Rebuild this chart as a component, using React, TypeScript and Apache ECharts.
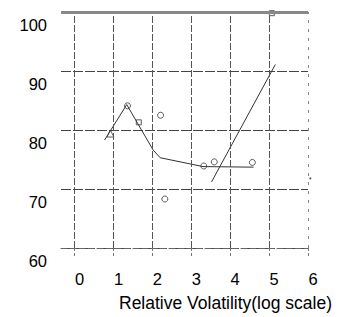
import React, { useEffect, useRef } from "react";
import * as echarts from "echarts";

const xTicks = [0, 1, 2, 3, 4, 5, 6];
const yTicks = [60, 70, 80, 90, 100];

const circleX = [1.36, 2.21, 2.32, 3.32, 3.59, 4.57];
const circleY = [84.1, 82.5, 68.3, 73.9, 74.6, 74.5];
const triangleX = [0.92];
const triangleY = [79.4];
const squareX = [1.65, 5.07];
const squareY = [81.3, 99.8];
const dotX = [6.06];
const dotY = [71.8];

const fitX = [0.77, 1.34, 2.02, 2.2, 3.3, 4.6];
const fitY = [78.3, 84.3, 76.6, 75.3, 73.8, 73.7];
const steepX = [3.52, 5.16];
const steepY = [71.2, 91.1];

const zip = (xs: number[], ys: number[]) => xs.map((x, i) => [x, ys[i]]);

export default function App() {
  const ref = useRef<HTMLDivElement>(null);
  useEffect(() => {
    if (!ref.current) return;
    const chart = echarts.init(ref.current, null, { renderer: "svg" });
    const font = "Liberation Sans, Arial, sans-serif";
    chart.setOption({
      animation: false,
      backgroundColor: "#fff",
      grid: { left: 61, right: 36, top: 12, bottom: 67 },
      xAxis: {
        type: "value",
        min: -0.35,
        max: 6,
        name: "Relative Volatility(log scale)",
        nameLocation: "middle",
        nameGap: 46,
        nameTextStyle: {
          fontFamily: font,
          fontSize: 17.5,
          color: "#000",
          padding: [0, 0, 0, 82],
        },
        axisLine: { show: true, lineStyle: { color: "#666", type: [6, 3], width: 1 } },
        axisTick: { show: true, customValues: xTicks, length: 9, lineStyle: { color: "#777", type: [3, 2] } },
        axisLabel: {
          customValues: xTicks,
          margin: 22,
          fontFamily: font,
          fontSize: 16.5,
          color: "#000",
          padding: [0, 0, 0, 10],
        },
        splitLine: { show: false },
      },
      yAxis: {
        type: "value",
        min: 60,
        max: 100,
        interval: 10,
        axisLine: { show: false },
        axisTick: { show: false },
        axisLabel: {
          margin: 14,
          fontFamily: font,
          fontSize: 16.5,
          color: "#000",
          verticalAlign: "top",
          padding: [4, 0, 0, 0],
          formatter: (v: number) => (yTicks.includes(v) ? String(v) : ""),
        },
        splitLine: { show: true, lineStyle: { color: "#444", type: [10, 2], width: 1 } },
      },
      series: [
        {
          type: "line",
          data: zip(fitX, fitY),
          showSymbol: false,
          symbol: "none",
          lineStyle: { color: "#333", width: 1 },
          markLine: {
            silent: true,
            symbol: "none",
            label: { show: false },
            data: [
              ...xTicks.map((v) => ({
                xAxis: v,
                lineStyle: {
                  color: v === 6 ? "#888" : "#555",
                  type: v === 6 ? [3, 6] : [7, 2],
                  width: 1,
                },
              })),
              { yAxis: 100, lineStyle: { color: "#888", type: "solid", width: 3 } },
            ],
          },
        },
        {
          type: "line",
          data: zip(steepX, steepY),
          symbol: "none",
          lineStyle: { color: "#333", width: 1 },
        },
        {
          type: "scatter",
          data: zip(circleX, circleY),
          symbol: "circle",
          symbolSize: 6,
          itemStyle: { color: "#fff", borderColor: "#333", borderWidth: 1 },
        },
        {
          type: "scatter",
          data: zip(triangleX, triangleY),
          symbol: "triangle",
          symbolSize: 7,
          itemStyle: { color: "#fff", borderColor: "#333", borderWidth: 1 },
        },
        {
          type: "scatter",
          data: zip(squareX, squareY),
          symbol: "rect",
          symbolSize: 5,
          itemStyle: { color: "#fff", borderColor: "#333", borderWidth: 1 },
        },
        {
          type: "scatter",
          data: zip(dotX, dotY),
          symbol: "circle",
          symbolSize: 2,
          clip: false,
          itemStyle: { color: "#333" },
        },
      ],
    });
    return () => chart.dispose();
  }, []);
  return (
    <div
      ref={ref}
      style={{ position: "fixed", left: 0, top: 0, width: 344, height: 317, background: "#fff" }}
    />
  );
}
